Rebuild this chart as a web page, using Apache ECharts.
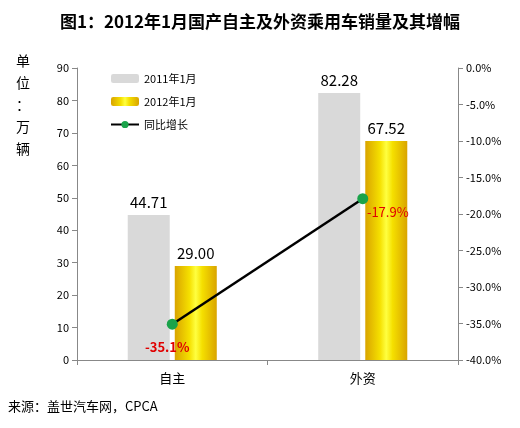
<!DOCTYPE html>
<html><head><meta charset="utf-8">
<script src="https://cdn.jsdelivr.net/npm/echarts@6/dist/echarts.min.js"></script>
<style>body{margin:0;background:#fff}#c{width:520px;height:428px}</style>
</head><body><div id="c"></div>
<script>
var categories = ['自主', '外资'];
var sales2011 = [44.71, 82.28];
var sales2012 = [29.00, 67.52];
var growth = [-35.1, -17.9];
var leftTicks = [0, 90, 10];
var rightTicks = [-40, 0, 5];

var chart = echarts.init(document.getElementById('c'));
var gold = new echarts.graphic.LinearGradient(0, 0, 1, 0, [
  {offset: 0, color: '#d9a400'}, {offset: 0.35, color: '#f5e000'}, {offset: 0.5, color: '#ffff40'},
  {offset: 0.65, color: '#f5e000'}, {offset: 1, color: '#d9a400'}
]);
var font = '"Noto Sans CJK SC", sans-serif';
chart.setOption({
  animation: false,
  textStyle: {fontFamily: font},
  title: {text: '图1：2012年1月国产自主及外资乘用车销量及其增幅', left: 'center', top: 8,
    textStyle: {fontSize: 17, fontWeight: 'bold', color: '#000', fontFamily: font}},
  graphic: [
    {type: 'text', left: 16, top: 50, style: {text: '单\n位\n：\n万\n辆', font: '14px ' + font, lineHeight: 22, fill: '#000'}},
    {type: 'text', left: 8, top: 400, style: {text: '来源：盖世汽车网，CPCA', font: '13px ' + font, fill: '#000'}}
  ],
  legend: {left: 105, top: 68, orient: 'vertical', itemGap: 12, itemWidth: 28, itemHeight: 9,
    textStyle: {fontSize: 11, color: '#000'},
    data: [{name: '2011年1月'}, {name: '2012年1月'}, {name: '同比增长'}]},
  grid: {left: 77, right: 62, top: 68, bottom: 68},
  xAxis: {type: 'category', data: categories,
    axisLine: {lineStyle: {color: '#888'}}, axisTick: {show: true, lineStyle: {color: '#888'}},
    axisLabel: {color: '#000', fontSize: 13, margin: 12}},
  yAxis: [
    {type: 'value', min: leftTicks[0], max: leftTicks[1], interval: leftTicks[2], splitLine: {show: false},
      axisLine: {show: true, lineStyle: {color: '#888'}}, axisTick: {show: true, lineStyle: {color: '#888'}},
      axisLabel: {color: '#000', fontSize: 11}},
    {type: 'value', min: rightTicks[0], max: rightTicks[1], interval: rightTicks[2], splitLine: {show: false},
      axisLine: {show: true, lineStyle: {color: '#888'}}, axisTick: {show: true, lineStyle: {color: '#888'}},
      axisLabel: {color: '#000', fontSize: 11, formatter: function (v) { return v.toFixed(1) + '%'; }}}
  ],
  series: [
    {name: '2011年1月', type: 'bar', data: sales2011, barWidth: 42, barGap: '12%', itemStyle: {color: '#d9d9d9'},
      label: {show: true, position: 'top', fontSize: 15, color: '#000', formatter: function (p) { return p.value.toFixed(2); }}},
    {name: '2012年1月', type: 'bar', data: sales2012, barWidth: 42, itemStyle: {color: gold},
      label: {show: true, position: 'top', fontSize: 15, color: '#000', formatter: function (p) { return p.value.toFixed(2); }}},
    {name: '同比增长', type: 'line', yAxisIndex: 1, symbol: 'circle', symbolSize: 11,
      data: [
        {value: growth[0], label: {fontWeight: 'bold'}},
        {value: growth[1]}
      ],
      lineStyle: {color: '#000', width: 2.5}, itemStyle: {color: '#1aa34a'},
      label: {show: true, color: '#e00000', fontSize: 13, formatter: function (p) { return p.value.toFixed(1) + '%'; }},
      labelLayout: function (p) { return p.dataIndex === 0 ? {dx: -5, dy: 40} : {dx: 25, dy: 30}; }}
  ]
});
</script></body></html>
